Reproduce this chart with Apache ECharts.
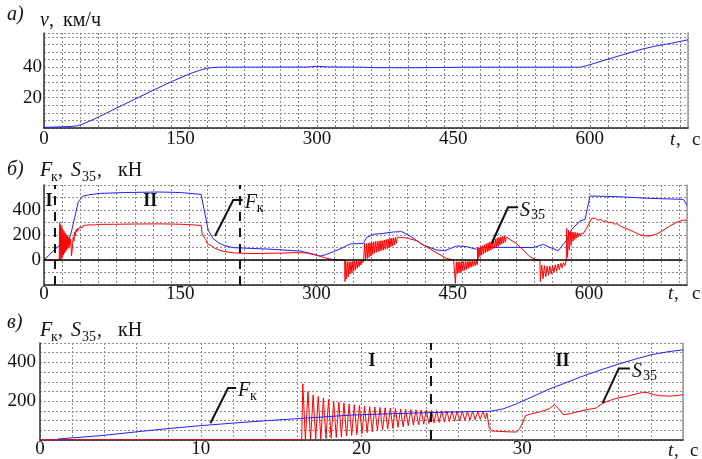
<!DOCTYPE html>
<html><head><meta charset="utf-8">
<script src="https://cdn.jsdelivr.net/npm/echarts@6/dist/echarts.min.js"></script>
<style>html,body{margin:0;padding:0;background:#fff}#c{width:702px;height:459px}</style>
</head><body><div id="c"></div><script>
// ---------- data ----------
const T_MAX = 708;
const xTicksLong = [0, 150, 300, 450, 600];
const xTicksShort = [0, 10, 20, 30];
const yTicksV = [20, 40];
const yTicksMid = [0, 200, 400];
const yTicksBot = [200, 400];

// a) speed v, km/h
const speed = [[0,0.4],[10,0.6],[20,0.8],[30,1],[36,1.4],[42,2.4],[50,4.5],[60,7.2],[80,13.2],[100,19],[120,24.8],[142,31],[160,35.6],[171,38],[180,39.4],[190,40],[250,40.1],[290,40.1],[300,40.6],[310,40.2],[350,40],[360,39.7],[400,39.6],[440,39.8],[460,40],[590,40],[600,41.6],[620,45.3],[640,48.8],[655,51.5],[670,53.6],[690,55.8],[708,58]];

// b) Fk (blue), S35 (red), kN
const fkMid = [[0,0],[5,35],[10,72],[15,105],[20,130],[25,150],[28,168],[31,250],[34,347],[37.8,467],[43,512],[50,522],[62,533],[90,540],[127,544],[150,540],[173,525],[176,413],[180.8,240],[186,173],[193,133],[200,112],[208,99],[245,88],[282,72],[295,50],[304,32],[310,42],[319,67],[328,95],[337,128],[351.6,133],[355.3,181],[362.6,205],[373.6,213],[384.6,224],[393.8,227],[403,192],[417.6,120],[432.4,80],[441.5,75],[454.4,112],[465.4,107],[476.4,85],[483.7,101],[520.5,101],[538.8,99],[549.8,125],[557,101],[566.3,75],[575.5,160],[581,245],[590,312],[595.7,325],[601.2,512],[630.6,507],[667,493],[704,485],[708,440]];
const s35MidA = [[0,0],[16.8,0],[17.2,300],[17.8,5],[18.4,282],[19,12],[19.6,262],[20.2,25],[20.8,245],[21.4,40],[22,230],[22.6,55],[23.2,218],[23.8,68],[24.4,205],[25,80],[25.6,195],[26.2,92],[26.8,185],[27.4,104],[28,176],[28.6,116],[29.2,168],[29.8,128],[30.2,33],[30.8,60],[31.5,130],[32.2,185],[33,150],[33.8,225],[34.6,195],[35.4,245],[36.2,225],[37,255],[38,238],[39,262],[40,250],[41,270],[42,258],[43,276],[44,266],[46,278],[48,272],[50,282],[55,280],[60,285],[80,286],[100,288],[130,289],[150,286],[165,281],[173,276],[174,215],[176,185],[178,165],[179,172],[180,130],[182,122],[184,115],[186,104],[188,95],[190,86],[195,74],[200,66],[210,56],[230,52],[260,55],[280,60],[290,55],[300,38],[310,16],[318,3],[331,0]];
const s35MidNeg1 = [[331.5,-173],[332,-10],[333,-150],[334,-12],[335,-135],[336,-14],[337,-112],[338,-14],[339,-102],[340,-12],[341,-90],[342,-10],[343,-78],[344,-9],[345,-65],[346,-8],[347,-53],[348,-6],[349,-40],[350,-4],[351,-21],[352,0]];
const s35MidPos1 = [[352.5,0],[353,135],[354,5],[355,130],[356,12],[357,135],[358,20],[359,138],[360,32],[361,142],[362,45],[363,145],[364,55],[365,148],[366,62],[367,150],[368,67],[369,152],[370,72],[371,154],[372,77],[373,156],[374,80],[375,160],[376,86],[377,164],[378,92],[379,168],[380,98],[381,172],[382,105],[383,175],[384,112],[385,178],[386,122],[387,180],[388,133],[389,182],[391.9,181],[399,177],[410,155],[421,107],[432,59],[443,13],[451,0]];
const s35MidNeg2 = [[452.5,0],[453,-187],[454,-15],[455,-110],[456,-14],[457,-104],[458,-14],[459,-97],[460,-13],[461,-88],[462,-13],[463,-82],[464,-12],[465,-76],[466,-12],[467,-68],[468,-11],[469,-60],[470,-10],[471,-55],[472,-9],[473,-50],[474,-8],[475,-44],[476,-6],[477,-38],[477.5,0]];
const s35MidPos2 = [[477.5,101],[478,10],[479,100],[480,27],[481,108],[482,40],[483,115],[484,50],[485,122],[486,58],[487,130],[488,65],[489,138],[490,72],[491,145],[492,80],[493,152],[494,88],[495,160],[496,95],[497,168],[498,102],[499,175],[500,110],[501,180],[502,120],[503,185],[504,128],[505,190],[506,135],[507,192],[508,142],[509,185],[512.8,165],[520,133],[527.6,80],[535,27],[542.2,0]];
const s35MidNeg3 = [[546,0],[546.5,-173],[548,-40],[549.5,-150],[551,-45],[552.5,-135],[554,-48],[555.5,-122],[557,-48],[558.5,-112],[560,-44],[561.5,-100],[563,-38],[564.5,-90],[566,-32],[567.5,-78],[569,-26],[570.5,-62],[572,-20],[573.5,-45],[575,-10],[575.5,0]];
const s35MidPos3 = [[575.5,253],[576.5,20],[577.5,240],[578.5,80],[579.5,228],[580.5,120],[581.5,225],[582.5,150],[583.5,222],[584.5,165],[585.5,220],[586.5,175],[587.5,218],[588.5,185],[589.5,216],[590.5,192],[591.5,214],[592.5,200],[594,213],[599.5,280],[603,333],[605,322],[607,335],[610,318],[613,325],[616,308],[619,314],[622,298],[625,303],[628,288],[631,290],[635,270],[640,255],[645,240],[649,227],[655,205],[660,194],[667,192],[674.5,208],[680,228],[689,272],[696,300],[704,320],[708,316]];
const zeroMid = [[0,0],[703,0]];
const dashMid = [11.3, 216];

// c) Fk, S35 over the first 40 s
const fkBot = [[1.1,5],[2,11],[3.7,22],[6,42],[8,59],[10,74],[12,87],[14,99],[16.2,111],[18,121],[19.3,128],[22,136],[24.3,141],[26,145],[28,148],[28.8,160],[29.65,187],[30.6,222],[31.7,263],[32.8,298],[33.8,330],[34.9,362],[35.9,389],[37,416],[38,439],[39,454],[40,465]];
const s35Bot = [[0,1],[16.28,1],[16.35,290],[16.51,0],[16.67,250],[16.83,2],[16.99,232],[17.15,4],[17.31,224],[17.47,6],[17.63,216],[17.79,8],[17.95,208],[18.11,10],[18.27,200],[18.43,13],[18.59,195],[18.75,16],[18.91,190],[19.07,20],[19.23,185],[19.39,24],[19.55,182],[19.71,28],[19.87,178],[20.03,33],[20.19,175],[20.35,38],[20.51,172],[20.67,43],[20.83,170],[20.99,48],[21.15,168],[21.31,53],[21.47,166],[21.63,57],[21.79,164],[21.95,61],[22.11,162],[22.27,65],[22.43,160],[22.59,69],[22.75,158],[22.91,73],[23.07,157],[23.23,76],[23.39,156],[23.55,79],[23.71,155],[23.87,82],[24.03,154],[24.19,85],[24.35,153],[24.51,88],[24.67,152],[24.83,91],[24.99,151],[25.15,93],[25.31,150],[25.47,95],[25.63,150],[25.79,97],[25.95,149],[26.11,99],[26.27,149],[26.43,101],[26.59,148],[26.75,103],[26.91,148],[27.07,105],[27.23,147],[27.39,107],[27.55,147],[27.71,110],[27.8,140],[27.95,60],[28.1,47],[28.6,44],[29.2,42],[29.65,41],[29.85,60],[30.0,86],[30.2,125],[30.5,134],[30.9,141],[31.3,150],[31.7,162],[32.0,182],[32.25,162],[32.55,131],[33.0,136],[33.8,153],[34.6,165],[35.0,190],[35.5,205],[35.9,216],[36.7,229],[37.5,246],[37.8,244],[38.15,234],[38.6,228],[39.2,226],[39.7,230],[40,234]];
const dashBot = [24.3];

// annotations (data coordinates)
const leaderFMid = [[188.3,192],[208.4,480],[218.8,480]];
const leaderSMid = [[493,134],[511,422],[522,422]];
const leaderFBot = [[10.6,86],[11.7,268],[12.2,268]];
const leaderSBot = [[35.0,190],[36.0,369],[36.7,369]];
const phaseMid = [[5.5,467,'I'],[117,467,'II']];
const phaseBot = [[20.65,406,'I'],[32.5,406,'II']];

// ---------- chart ----------
const FONT = '"Liberation Serif", "DejaVu Serif", serif';
const GRIDC = '#8c8c8c';
const BLUE = '#2020ff', RED = '#ff0000';
const chart = echarts.init(document.getElementById('c'), null, {renderer:'canvas'});

function labX(g, max, interval, ticks, margin){
  return {gridIndex:g, type:'value', min:0, max:max, interval:interval,
    axisLine:{show:true, onZero:false, lineStyle:{color:'#222', width:1.5}},
    axisTick:{show:false}, splitLine:{show:false},
    axisLabel:{margin:margin, fontFamily:FONT, fontSize:19, color:'#111',
      formatter:function(v){ return ticks.indexOf(v) >= 0 ? String(v) : ''; }}};
}
function gridX(g, max, interval){
  return {gridIndex:g, type:'value', min:0, max:max, interval:interval, position:'top',
    axisLine:{show:false}, axisTick:{show:false}, axisLabel:{show:false},
    splitLine:{show:true, lineStyle:{color:GRIDC, type:[2,2], width:1}}};
}
function labY(g, min, max, interval, ticks, margin){
  return {gridIndex:g, type:'value', min:min, max:max, interval:interval,
    axisLine:{show:true, onZero:false, lineStyle:{color:'#333', width:1.5}},
    axisTick:{show:false}, splitLine:{show:false},
    axisLabel:{margin:margin, fontFamily:FONT, fontSize:19, color:'#111',
      formatter:function(v){ return ticks.indexOf(v) >= 0 ? String(v) : ''; }}};
}
function gridY(g, min, max, interval){
  return {gridIndex:g, type:'value', min:min, max:max, interval:interval, position:'right',
    axisLine:{show:true, onZero:false, lineStyle:{color:'#999', width:1.5}},
    axisTick:{show:false}, axisLabel:{show:false},
    splitLine:{show:true, lineStyle:{color:GRIDC, type:[2,2], width:1}}};
}
function line(name, xi, yi, data, color, width, z){
  return {name:name, type:'line', xAxisIndex:xi, yAxisIndex:yi, data:data, symbol:'none', showSymbol:false,
    lineStyle:{color:color, width:width}, itemStyle:{color:color}, z:z, silent:true, animation:false, sampling:null};
}
function vDash(values, dash){
  return {silent:true, symbol:['none','none'], label:{show:false}, animation:false,
    lineStyle:{color:'#111', width:2, type:dash},
    data: values.map(function(v){ return {xAxis:v}; })};
}

const sMid = line('S35 b', 2, 2, s35MidA.concat(s35MidNeg1, s35MidPos1, s35MidNeg2, s35MidPos2, s35MidNeg3, s35MidPos3), RED, 1, 3);
const zMid = line('zero', 2, 2, zeroMid, '#000', 1.5, 4);
zMid.markLine = vDash(dashMid, [9,7]);
const fBot = line('Fk c', 4, 4, fkBot, BLUE, 1, 4);
fBot.markLine = vDash(dashBot, [10,8]);

chart.setOption({
  animation:false,
  backgroundColor:'#fff',
  grid:[
    {left:44, top:33, width:644, height:95},
    {left:44, top:185, width:643, height:100},
    {left:40, top:343, width:643, height:99}
  ],
  xAxis:[
    labX(0, T_MAX, 150, xTicksLong, 2), gridX(0, T_MAX, 20),
    labX(1, T_MAX, 150, xTicksLong, 0), gridX(1, T_MAX, 20),
    labX(2, 40, 10, xTicksShort, 0), gridX(2, 40, 2)
  ],
  yAxis:[
    labY(0, 0, 62.5, 20, yTicksV, 2), gridY(0, 0, 62.5, 5),
    labY(1, -200, 600, 200, yTicksMid, 3), gridY(1, -200, 600, 100),
    labY(2, 0, 500, 200, yTicksBot, 4), gridY(2, 0, 500, 50)
  ],
  series:[
    line('v', 0, 0, speed, BLUE, 1, 3),
    line('Fk b', 2, 2, fkMid, BLUE, 1, 2),
    sMid, zMid,
    line('S35 c', 4, 4, s35Bot, RED, 1, 3),
    fBot
  ]
});

// ---------- texts and annotations ----------
function txt(x, base, s, size, opt){
  opt = opt || {};
  const font = (opt.italic ? 'italic ' : '') + (opt.bold ? 'bold ' : '') + size + 'px ' + FONT;
  const al = opt.align || 'left';
  return {type:'text', x:x, y:base - 0.34*size, silent:true, z:100,
    style:{text:s, font:font, fill:'#111', align:al, textAlign:al, verticalAlign:'middle', textVerticalAlign:'middle'}};
}
const els = [];
// panel a
els.push(txt(7, 22, 'а)', 20, {italic:true}));
els.push(txt(40, 28, 'v', 20, {italic:true}));
els.push(txt(49, 28, ',', 20));
els.push(txt(63, 28, 'км/ч', 20));
// panel b
els.push(txt(7, 177, 'б)', 20, {italic:true}));
// panel c
els.push(txt(7, 330, 'в)', 20, {italic:true}));
[[178, 182], [338, 342]].forEach(function(b){
  els.push(txt(40, b[0], 'F', 20, {italic:true}));
  els.push(txt(51, b[1], 'к', 14));
  els.push(txt(58, b[0], ',', 20));
  els.push(txt(71, b[0], 'S', 20, {italic:true}));
  els.push(txt(82, b[1], '35', 14));
  els.push(txt(97, b[0], ',', 20));
  els.push(txt(118, b[0], 'кН', 20));
});
// t, c
[[670, 692, 146], [668, 692, 300], [668, 690, 457]].forEach(function(a){
  els.push(txt(a[0], a[2], 't', 19, {italic:true}));
  els.push(txt(a[0] + 6, a[2], ',', 19));
  els.push(txt(a[1], a[2], 'с', 19));
});
function px(xi, yi, p){ return chart.convertToPixel({xAxisIndex:xi, yAxisIndex:yi}, [p[0], p[1]]); }
function leader(xi, yi, pts, main, sub, subDx){
  const pp = pts.map(function(p){ return px(xi, yi, p); });
  els.push({type:'polyline', silent:true, z:100, shape:{points:pp}, style:{stroke:'#111', lineWidth:2, fill:null}});
  const e = pp[pp.length - 1];
  els.push(txt(e[0] + 2, e[1] + 10, main, 20, {italic:true}));
  els.push(txt(e[0] + 2 + subDx, e[1] + 13, sub, 14));
}
leader(2, 2, leaderFMid, 'F', 'к', 12);
leader(2, 2, leaderSMid, 'S', '35', 11);
leader(4, 4, leaderFBot, 'F', 'к', 12);
leader(4, 4, leaderSBot, 'S', '35', 11);
function phase(xi, yi, arr){
  arr.forEach(function(a){
    const p = px(xi, yi, a);
    els.push({type:'text', x:p[0], y:p[1], silent:true, z:100,
      style:{text:a[2], font:'bold 18px ' + FONT, fill:'#111', align:'center', textAlign:'center', verticalAlign:'middle', textVerticalAlign:'middle'}});
  });
}
phase(2, 2, phaseMid);
phase(4, 4, phaseBot);
chart.setOption({graphic:{elements:els}});
</script></body></html>
